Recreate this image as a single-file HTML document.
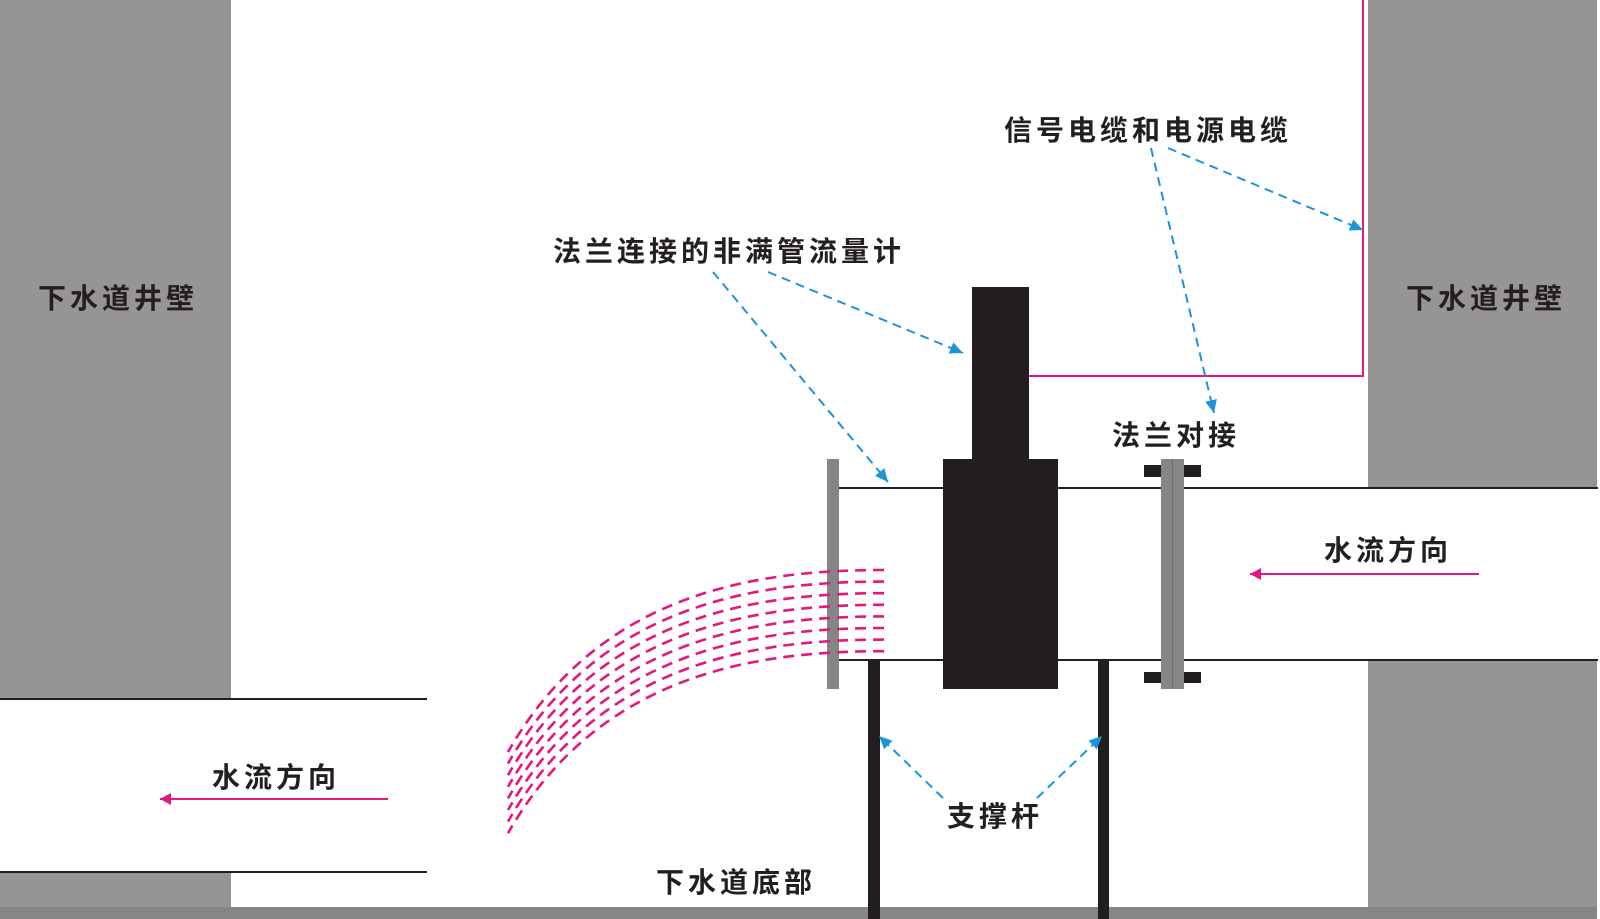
<!DOCTYPE html>
<html>
<head>
<meta charset="utf-8">
<style>
html,body{margin:0;padding:0;background:#fff;}
body{width:1600px;height:919px;overflow:hidden;}
svg{display:block;}
text{font-family:"Liberation Sans","Noto Sans CJK SC","WenQuanYi Zen Hei",sans-serif;font-weight:bold;font-size:28px;fill:#231f20;}
</style>
</head>
<body>
<svg width="1600" height="919" viewBox="0 0 1600 919" xmlns="http://www.w3.org/2000/svg">
<defs>
<marker id="ab" markerUnits="userSpaceOnUse" markerWidth="14" markerHeight="12" refX="13" refY="6" orient="auto">
<path d="M0,0 L13,6 L0,12 z" fill="#1b95d8"/>
</marker>
<marker id="ap" markerUnits="userSpaceOnUse" markerWidth="12" markerHeight="12" refX="11" refY="6" orient="auto">
<path d="M0,0 L11,6 L0,12 z" fill="#e3177d"/>
</marker>
</defs>

<!-- walls -->
<rect x="0" y="0" width="231" height="699" fill="#969594"/>
<rect x="0" y="872" width="231" height="36" fill="#969594"/>
<rect x="1368" y="0" width="229" height="488" fill="#969594"/>
<rect x="1368" y="660" width="229" height="248" fill="#969594"/>
<!-- floor -->
<rect x="0" y="907" width="1597" height="12" fill="#868686"/>

<!-- left outlet pipe -->
<line x1="0" y1="699" x2="427" y2="699" stroke="#231f20" stroke-width="2"/>
<line x1="0" y1="872" x2="427" y2="872" stroke="#231f20" stroke-width="2"/>

<!-- main pipe -->
<line x1="839" y1="488" x2="1598" y2="488" stroke="#231f20" stroke-width="2"/>
<line x1="839" y1="660" x2="1598" y2="660" stroke="#231f20" stroke-width="2"/>

<!-- support rods -->
<rect x="868" y="660" width="12" height="259" fill="#221e1f"/>
<rect x="1098" y="660" width="11" height="259" fill="#221e1f"/>

<!-- meter -->
<rect x="972" y="287" width="57" height="173" fill="#221e1f"/>
<rect x="943" y="459" width="115" height="230" fill="#221e1f"/>

<!-- left flange -->
<rect x="827" y="459" width="12" height="230" fill="#858585"/>

<!-- right flange joint -->
<rect x="1144" y="465" width="57" height="12" fill="#221e1f"/>
<rect x="1144" y="672" width="57" height="11" fill="#221e1f"/>
<rect x="1161" y="459" width="23" height="230" fill="#868686"/>
<line x1="1172.5" y1="459" x2="1172.5" y2="689" stroke="#6e6e6e" stroke-width="1"/>

<!-- pink cable -->
<polyline points="1029,376 1363,376 1363,0" fill="none" stroke="#e3177d" stroke-width="2"/>

<!-- water jet dashed curves -->
<g fill="none" stroke="#e3177d" stroke-width="2.6" stroke-dasharray="11 7">
<path d="M884,570 C760,570 600,590 508,752"/>
<path d="M884,581.6 C760,581.6 600,601.6 508,763.6"/>
<path d="M884,593.2 C760,593.2 600,613.2 508,775.2"/>
<path d="M884,604.8 C760,604.8 600,624.8 508,786.8"/>
<path d="M884,616.4 C760,616.4 600,636.4 508,798.4"/>
<path d="M884,628 C760,628 600,648 508,810"/>
<path d="M884,639.6 C760,639.6 600,659.6 508,821.6"/>
<path d="M884,651.2 C760,651.2 600,671.2 508,833.2"/>
</g>

<!-- flow arrows -->
<line x1="388" y1="799" x2="160" y2="799" stroke="#e3177d" stroke-width="2" marker-end="url(#ap)"/>
<line x1="1479" y1="574" x2="1250" y2="574" stroke="#e3177d" stroke-width="2" marker-end="url(#ap)"/>

<!-- blue dashed leaders -->
<g fill="none" stroke="#1b95d8" stroke-width="2" stroke-dasharray="9 6">
<line x1="1151" y1="148" x2="1214" y2="413" marker-end="url(#ab)"/>
<line x1="1168" y1="148" x2="1363" y2="230" marker-end="url(#ab)"/>
<line x1="713" y1="272" x2="888" y2="482" marker-end="url(#ab)"/>
<line x1="768" y1="272" x2="963" y2="353" marker-end="url(#ab)"/>
<line x1="943" y1="798" x2="879" y2="736" marker-end="url(#ab)"/>
<line x1="1037" y1="798" x2="1102" y2="736" marker-end="url(#ab)"/>
</g>

<!-- labels -->
<text x="1004 1036 1068 1100 1132 1164 1196 1228 1260" y="140">信号电缆和电源电缆</text>
<text x="553 585 617 649 681 713 745 777 809 841 873" y="261">法兰连接的非满管流量计</text>
<text x="38 70 102 134 166" y="308">下水道井壁</text>
<text x="1406 1438 1470 1502 1534" y="308">下水道井壁</text>
<text x="1112 1144 1176 1208" y="445">法兰对接</text>
<text x="1324 1356 1388 1420" y="560">水流方向</text>
<text x="212 244 276 308" y="787">水流方向</text>
<text x="947 979 1011" y="826">支撑杆</text>
<text x="656 688 720 752 784" y="892">下水道底部</text>
</svg>
</body>
</html>
